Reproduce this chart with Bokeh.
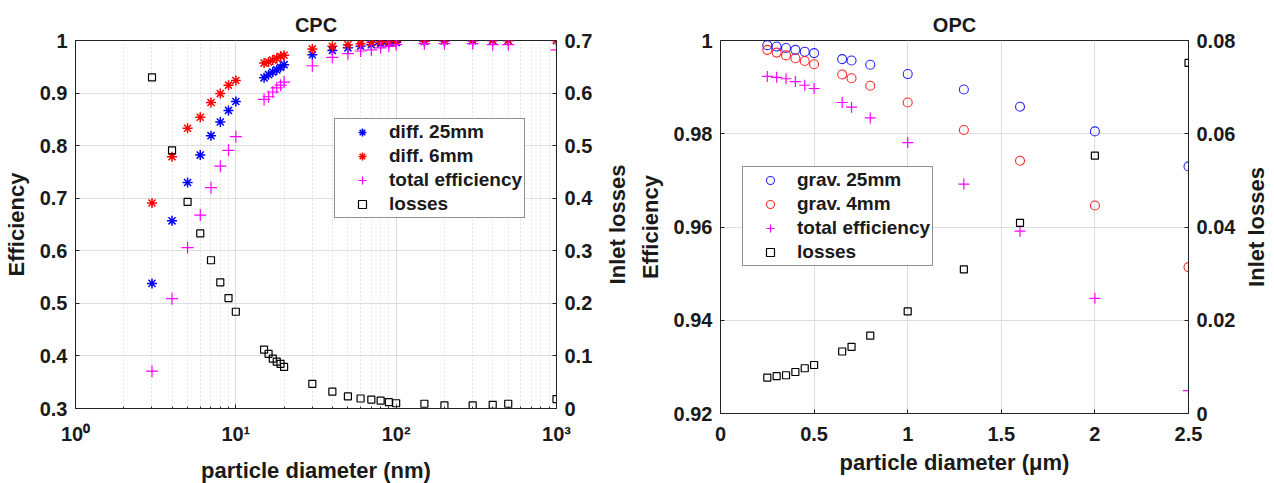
from bokeh.plotting import figure
from bokeh.layouts import row
from bokeh.models import Range1d, LinearAxis, FixedTicker, Legend, LegendItem
from bokeh.embed import file_html
from bokeh.resources import INLINE

# ---------------- CPC data ----------------
cpc_d = [3, 4, 5, 6, 7, 8, 9, 10, 15, 16, 17, 18, 19, 20, 30, 40, 50, 60, 70, 80, 90, 100,
         150, 200, 300, 400, 500, 1000]
cpc_diff25 = [0.538, 0.657, 0.730, 0.782, 0.819, 0.845, 0.867, 0.884, 0.929, 0.935, 0.940, 0.944,
              0.949, 0.954, 0.973, 0.981, 0.986, 0.989, 0.992, 0.994, 0.995, 0.996, 0.998, 0.999,
              0.9995, 1.0, 1.0, 1.0]
cpc_diff6 = [0.691, 0.779, 0.833, 0.854, 0.882, 0.899, 0.915, 0.924, 0.957, 0.959, 0.963, 0.966,
             0.970, 0.972, 0.984, 0.989, 0.992, 0.994, 0.996, 0.997, 0.998, 0.998, 0.999, 1.0,
             1.0, 1.0, 1.0, 1.0]
cpc_total = [0.371, 0.509, 0.606, 0.668, 0.720, 0.761, 0.791, 0.817, 0.888, 0.893, 0.902, 0.910,
             0.915, 0.921, 0.952, 0.968, 0.975, 0.980, 0.982, 0.986, 0.989, 0.992, 0.994, 0.994,
             0.994, 0.992, 0.992, 0.982]
cpc_losses = [0.630, 0.491, 0.393, 0.333, 0.282, 0.240, 0.210, 0.184, 0.112, 0.104, 0.095, 0.089,
              0.085, 0.079, 0.047, 0.032, 0.023, 0.019, 0.017, 0.015, 0.012, 0.010, 0.009, 0.006,
              0.006, 0.007, 0.009, 0.018]

cpc_x_ticks = [1, 10, 100, 1000]
cpc_x_labels = ["10\u2070", "10\u00b9", "10\u00b2", "10\u00b3"]
cpc_y_ticks = [0.3, 0.4, 0.5, 0.6, 0.7, 0.8, 0.9, 1.0]
cpc_y_labels = ["0.3", "0.4", "0.5", "0.6", "0.7", "0.8", "0.9", "1"]
cpc_y2_ticks = [0.0, 0.1, 0.2, 0.3, 0.4, 0.5, 0.6, 0.7]
cpc_y2_labels = ["0", "0.1", "0.2", "0.3", "0.4", "0.5", "0.6", "0.7"]
cpc_labels = ["diff. 25mm", "diff. 6mm", "total efficiency", "losses"]

# ---------------- OPC data ----------------
opc_d = [0.25, 0.3, 0.35, 0.4, 0.45, 0.5, 0.65, 0.7, 0.8, 1.0, 1.3, 1.6, 2.0, 2.5]
opc_grav25 = [0.9990, 0.9987, 0.9984, 0.9980, 0.9976, 0.9973, 0.9960, 0.9957, 0.9948, 0.9928,
              0.9895, 0.9858, 0.9805, 0.9730]
opc_grav4 = [0.9980, 0.9974, 0.9968, 0.9962, 0.9956, 0.9949, 0.9927, 0.9919, 0.9903, 0.9867,
             0.9808, 0.9742, 0.9646, 0.9514]
opc_total = [0.9923, 0.9921, 0.9918, 0.9912, 0.9904, 0.9897, 0.9867, 0.9857, 0.9834, 0.9781,
             0.9692, 0.9591, 0.9447, 0.9249]
opc_losses = [0.0077, 0.0080, 0.0082, 0.0089, 0.0097, 0.0104, 0.0133, 0.0143, 0.0167, 0.0219,
              0.0309, 0.0409, 0.0553, 0.0752]

opc_x_ticks = [0, 0.5, 1, 1.5, 2, 2.5]
opc_x_labels = ["0", "0.5", "1", "1.5", "2", "2.5"]
opc_y_ticks = [0.92, 0.94, 0.96, 0.98, 1.0]
opc_y_labels = ["0.92", "0.94", "0.96", "0.98", "1"]
opc_y2_ticks = [0.0, 0.02, 0.04, 0.06, 0.08]
opc_y2_labels = ["0", "0.02", "0.04", "0.06", "0.08"]
opc_labels = ["grav. 25mm", "grav. 4mm", "total efficiency", "losses"]
loss_axis_title = "Inlet losses"

FONT = "Liberation Sans"
TXT = "#1a1a1a"
BLUE = "#0000ff"
RED = "#ff0000"
MAG = "#ff00ff"


def style_axis(ax, ticks, labels, minor=None, standoff=8):
    ax.ticker = FixedTicker(ticks=ticks, minor_ticks=minor or [])
    ax.major_label_overrides = dict(zip(ticks, labels))
    ax.major_label_text_font = FONT
    ax.major_label_text_font_style = "bold"
    ax.major_label_text_font_size = "20px"
    ax.major_label_text_color = TXT
    ax.axis_label_text_font = FONT
    ax.axis_label_text_font_style = "bold"
    ax.axis_label_text_font_size = "22px"
    ax.axis_label_text_color = TXT
    ax.axis_line_color = "#222222"
    ax.major_tick_line_color = "#222222"
    ax.minor_tick_line_color = "#222222"
    ax.major_tick_in = 4
    ax.major_tick_out = 0
    ax.minor_tick_in = 2
    ax.minor_tick_out = 0
    ax.major_label_standoff = standoff
    ax.axis_label_standoff = 8


def make_legend(p, items, loc):
    leg = Legend(items=items, location=loc, margin=0, padding=2, spacing=2,
                 label_height=20, glyph_height=20, glyph_width=50, label_standoff=2,
                 label_text_font=FONT, label_text_font_style="bold",
                 label_text_font_size="19px", label_text_color=TXT,
                 border_line_color="#222222", border_line_width=1,
                 background_fill_color="white", background_fill_alpha=1.0)
    p.add_layout(leg)


def base_fig(title, **kw):
    p = figure(output_backend="svg", toolbar_location=None, title=title, **kw)
    p.title.align = "center"
    p.title.text_font = FONT
    p.title.text_font_style = "bold"
    p.title.text_font_size = "20px"
    p.title.text_color = TXT
    p.title.standoff = 10
    p.outline_line_color = "#222222"
    p.outline_line_alpha = 1.0
    p.background_fill_color = "white"
    p.border_fill_color = "white"
    p.grid.grid_line_color = "#dedede"
    return p


def right_axis(p, name, ticks, labels):
    ax = LinearAxis(y_range_name=name)
    p.add_layout(ax, "right")
    style_axis(ax, ticks, labels)
    return ax


def label_strip(text, border_left, frame_h, border_bottom):
    # narrow blank figure whose left-axis title reads bottom-to-top, like the reference
    s = figure(output_backend="svg", toolbar_location=None, x_axis_location=None,
               frame_width=1, frame_height=frame_h, min_border_left=border_left,
               min_border_right=0, min_border_top=40, min_border_bottom=border_bottom,
               x_range=Range1d(0, 1), y_range=Range1d(0, 1))
    s.outline_line_color = None
    s.grid.visible = False
    s.background_fill_color = "white"
    s.border_fill_color = "white"
    ax = s.yaxis[0]
    ax.ticker = FixedTicker(ticks=[])
    ax.axis_line_color = None
    ax.major_tick_line_color = None
    ax.minor_tick_line_color = None
    ax.major_tick_in = 0
    ax.major_tick_out = 0
    ax.minor_tick_in = 0
    ax.minor_tick_out = 0
    ax.major_label_standoff = 0
    ax.axis_label = text
    ax.axis_label_standoff = 0
    ax.axis_label_text_font = FONT
    ax.axis_label_text_font_style = "bold"
    ax.axis_label_text_font_size = "22px"
    ax.axis_label_text_color = TXT
    return s


# ---------------- CPC figure ----------------
p1 = base_fig("CPC", x_axis_type="log", x_range=Range1d(1, 1000), y_range=Range1d(0.3, 1.0),
              frame_width=481, frame_height=368,
              min_border_left=66, min_border_right=45, min_border_top=40, min_border_bottom=66)
p1.extra_y_ranges = {"loss": Range1d(0, 0.7)}
right_axis(p1, "loss", cpc_y2_ticks, cpc_y2_labels)

minor_log = [m * 10 ** k for k in range(0, 3) for m in range(2, 10)]
style_axis(p1.xaxis[0], cpc_x_ticks, cpc_x_labels, minor_log, standoff=14)
style_axis(p1.yaxis[0], cpc_y_ticks, cpc_y_labels)
p1.xaxis[0].axis_label = "particle diameter (nm)"
p1.xaxis[0].axis_label_standoff = 10
p1.yaxis[0].axis_label = "Efficiency"
p1.xgrid.minor_grid_line_color = "#c8c8c8"
p1.xgrid.minor_grid_line_dash = "1 3"

r1 = p1.scatter(cpc_d, cpc_diff25, marker="asterisk", size=10, line_color=BLUE, line_width=1.5)
r2 = p1.scatter(cpc_d, cpc_diff6, marker="asterisk", size=10, line_color=RED, line_width=1.5)
r3 = p1.scatter(cpc_d, cpc_total, marker="cross", size=12, line_color=MAG, line_width=1.2)
r4 = p1.scatter(cpc_d, cpc_losses, marker="square", size=7, line_color="black", fill_color=None,
                line_width=1.2, y_range_name="loss")
make_legend(p1, [LegendItem(label=l, renderers=[r]) for l, r in zip(cpc_labels, [r1, r2, r3, r4])],
            (259, 190))

sA = label_strip(loss_axis_title, 26, 368, 66)

# ---------------- OPC figure ----------------
p2 = base_fig("OPC", x_range=Range1d(0, 2.5), y_range=Range1d(0.92, 1.0),
              frame_width=468, frame_height=373,
              min_border_left=90, min_border_right=50, min_border_top=40, min_border_bottom=61)
p2.extra_y_ranges = {"loss": Range1d(0, 0.08)}
right_axis(p2, "loss", opc_y2_ticks, opc_y2_labels)
style_axis(p2.xaxis[0], opc_x_ticks, opc_x_labels, standoff=13)
style_axis(p2.yaxis[0], opc_y_ticks, opc_y_labels)
p2.xaxis[0].axis_label = "particle diameter (\u03bcm)"
p2.xaxis[0].axis_label_standoff = 6
p2.yaxis[0].axis_label = "Efficiency"

q1 = p2.scatter(opc_d, opc_grav25, marker="circle", size=9, line_color=BLUE, fill_color=None,
                line_width=1.1, line_alpha=0.85)
q2 = p2.scatter(opc_d, opc_grav4, marker="circle", size=9, line_color=RED, fill_color=None,
                line_width=1.1, line_alpha=0.85)
q3 = p2.scatter(opc_d, opc_total, marker="cross", size=11, line_color=MAG, line_width=1.2)
q4 = p2.scatter(opc_d, opc_losses, marker="square", size=7, line_color="black", fill_color=None,
                line_width=1.2, y_range_name="loss")
make_legend(p2, [LegendItem(label=l, renderers=[r]) for l, r in zip(opc_labels, [q1, q2, q3, q4])],
            (22, 147))

sB = label_strip(loss_axis_title, 30, 373, 61)

layout = row(p1, sA, p2, sB)
open("out.html", "w").write(file_html(layout, INLINE))
